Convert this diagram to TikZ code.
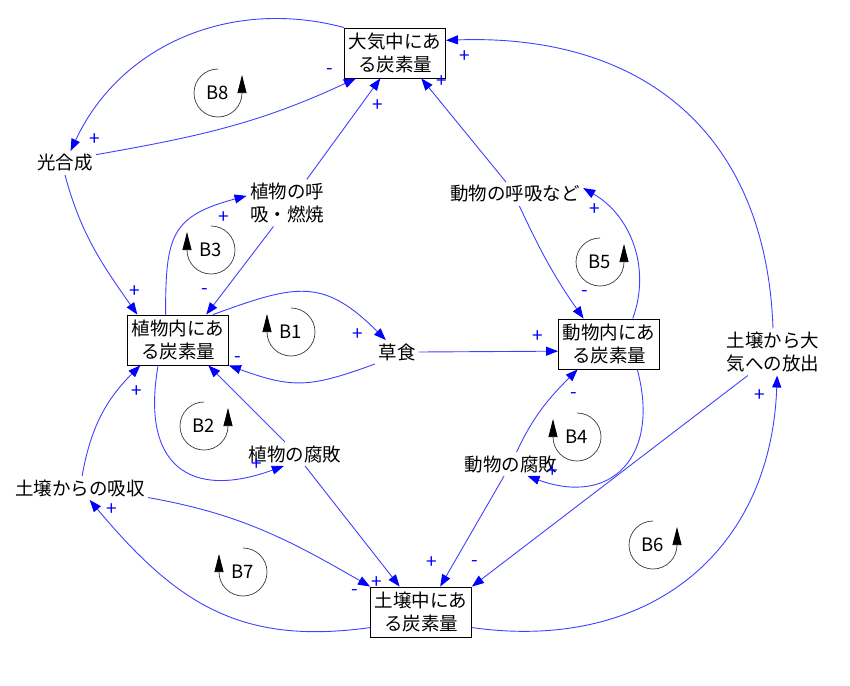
\documentclass[tikz,border=0pt]{standalone}
\usepackage{fontspec}
\setmainfont{Noto Sans CJK JP}
\usetikzlibrary{arrows.meta}
\definecolor{linkblue}{HTML}{4040FF}
\definecolor{tipblue}{HTML}{0000FF}
\definecolor{loopgrey}{HTML}{3A3A3A}
\newcommand\jpfont{\fontsize{18.5}{23}\selectfont}
\newcommand\signfont{\fontsize{19}{20}\selectfont}
\tikzset{
  every picture/.style={line width=0.9pt},
  stock/.style={draw=black, fill=white, align=center, minimum width=101pt, minimum height=50pt, inner sep=2pt, font=\jpfont},
  var/.style={align=center, inner sep=3pt, font=\jpfont},
  link/.style={-{Triangle[length=12pt, width=9pt, color=tipblue]}, draw=linkblue},
  sign/.style={text=tipblue, font=\signfont, inner sep=0pt},
  looplabel/.style={font=\jpfont, inner sep=0pt},
  loopline/.style={draw=loopgrey, line width=0.7pt, -{Triangle[length=18pt, width=9pt, color=black]}},
}

\begin{document}
\begin{tikzpicture}[x=1pt, y=1pt]
  \useasboundingbox (0,0) rectangle (850,-685);
  % stocks
  \node[stock] (atm) at (395,-53) {大気中にあ\\る炭素量};
  \node[stock] (plant) at (178,-340) {植物内にあ\\る炭素量};
  \node[stock] (animal) at (609,-344) {動物内にあ\\る炭素量};
  \node[stock] (soil) at (421,-612) {土壌中にあ\\る炭素量};
  % flows
  \node[var] (photo) at (65,-163) {光合成};
  \node[var] (presp) at (287,-203) {植物の呼\\吸・燃焼};
  \node[var] (aresp) at (515,-194) {動物の呼吸など};
  \node[var] (herb) at (397,-352) {草食};
  \node[var] (pdecay) at (295,-454) {植物の腐敗};
  \node[var] (adecay) at (511,-464) {動物の腐敗};
  \node[var] (absorb) at (80,-488) {土壌からの吸収};
  \node[var] (release) at (773,-352) {土壌から大\\気への放出};

  % links around the atmosphere
  \draw[link] (atm.north west) to[out=165, in=65] (photo.65) node[sign] at (95,-140) {+};
  \draw[link] (photo.15) to[out=10, in=205] (atm.-147) node[sign] at (330,-72) {-};
  \draw[link] (presp.50) -- (atm.-120) node[sign] at (378,-106) {+};
  \draw[link] (aresp.127) -- (atm.-44) node[sign] at (442,-82) {+};
  \draw[link] (release.north) to[out=92, in=2, looseness=1.15] (atm.14) node[sign] at (465,-57) {+};

  % plants
  \draw[link] (photo.south) to[out=-75, in=125] (plant.148) node[sign] at (135,-292) {+};
  \draw[link] (plant.116) to[out=90, in=-165, looseness=1.4] (presp.170) node[sign] at (224,-218) {+};
  \draw[link] (presp.240) -- (plant.42) node[sign] at (205,-292) {-};
  \draw[link] (plant.36) to[out=20, in=135, looseness=1.3] (herb.133) node[sign] at (358,-335) {+};
  \draw[link] (herb.south west) to[out=200, in=-20, looseness=1.2] (plant.south east) node[sign] at (238,-360) {-};
  \draw[link] (herb.east) -- (animal.188) node[sign] at (538,-337) {+};
  \draw[link] (plant.232) to[out=-100, in=-160, looseness=1.6] (pdecay.227) node[sign] at (257,-465) {+};
  \draw[link] (pdecay.130) -- (plant.-40);
  \draw[link] (pdecay.-50) -- (soil.130) node[sign] at (377,-583) {+};

  % soil
  \draw[link] (absorb.-8) to[out=-10, in=150] (soil.north west) node[sign] at (355,-592) {-};
  \draw[link] (soil.197) to[out=188, in=-50, looseness=1.1] (absorb.-51) node[sign] at (112,-510) {+};
  \draw[link] (absorb.80) to[out=80, in=-135] (plant.214) node[sign] at (137,-392) {+};

  % animals
  \draw[link] (animal.47) to[out=70, in=-30] (aresp.5) node[sign] at (595,-210) {+};
  \draw[link] (aresp.-70) to[out=-65, in=125] (animal.135) node[sign] at (585,-294) {-};
  \draw[link] (animal.-42) to[out=-75, in=-20, looseness=1.5] (adecay.-36) node[sign] at (553,-472) {+};
  \draw[link] (adecay.65) to[out=65, in=-135] (animal.219) node[sign] at (574,-396) {-};
  \draw[link] (adecay.240) -- (soil.53) node[sign] at (432,-563) {+};
  \draw[link] (release.223) -- (soil.north east) node[sign] at (475,-563) {-};
  \draw[link] (soil.-17) to[out=-8, in=-92, looseness=1.15] (release.-80) node[sign] at (760,-396) {+};

  % loop markers
  \foreach \n/\x/\y in {B8/218/-93, B2/204/-426, B5/600/-262, B6/653/-545} {
    \node[looplabel] (\n) at (\x,\y) {\n};
    \draw[loopline] (\n.center) ++(0,24) arc[start angle=90, end angle=360, radius=24] -- ++(0,18);
  }
  \foreach \n/\x/\y in {B1/291/-332, B3/211/-250, B4/577/-437, B7/243/-572} {
    \node[looplabel] (\n) at (\x,\y) {\n};
    \draw[loopline] (\n.center) ++(0,24) arc[start angle=90, end angle=-180, radius=24] -- ++(0,18);
  }
\end{tikzpicture}
\end{document}
